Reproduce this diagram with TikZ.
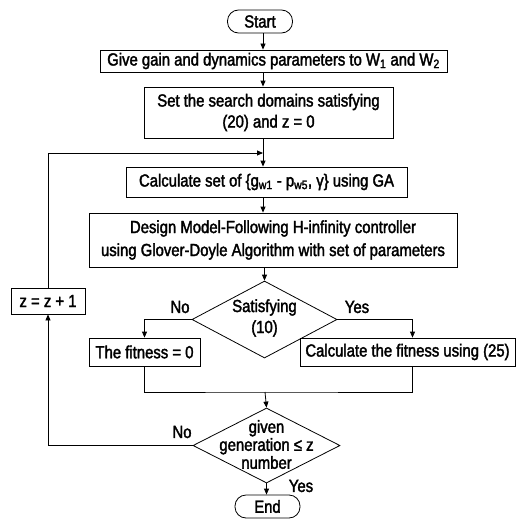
\documentclass[tikz,border=0pt]{standalone}
\usepackage{fontspec}
\setmainfont{Liberation Sans}[FakeStretch=0.85, FakeBold=2]
\usetikzlibrary{shapes.geometric, arrows.meta}

\tikzset{
  line/.style={line width=0.8pt, draw=black},
  arr/.style={line, -{Triangle[length=6pt,width=5pt]}},
  box/.style={line, rectangle, inner sep=0pt, align=center},
  term/.style={box, rounded corners=11pt, minimum width=65pt, minimum height=23pt},
  decide/.style={line, diamond, inner sep=0pt},
  txt/.style={inner sep=0pt, align=center},
}

\begin{document}
\begin{tikzpicture}[x=1pt, y=-1pt, font=\fontsize{17.5}{21}\selectfont]
  \useasboundingbox (0,0) rectangle (527,519);

  % column of the main vertical flow
  \coordinate (col) at (263,0);

  \node[term] (start) at (260,21.5) {Start};
  \node[box, minimum width=347pt, minimum height=22pt] (give) at (273.5,61)
    {Give gain and dynamics parameters to W\textsubscript{1} and W\textsubscript{2}};
  \node[box, minimum width=249pt, minimum height=51pt] (setd) at (268.5,112.5)
    {Set the search domains satisfying\\(20) and z = 0};
  \node[box, minimum width=281pt, minimum height=30pt] (calc) at (266.5,182)
    {Calculate set of \{g\textsubscript{w1} - p\textsubscript{w5}, γ\} using GA};
  \node[box, minimum width=368pt, minimum height=54pt, font=\fontsize{17.5}{23}\selectfont] (design) at (273,240)
    {Design Model-Following H-infinity controller\\using Glover-Doyle Algorithm with set of parameters};

  \node[decide, minimum width=145pt, minimum height=77pt] (sat) at (264.5,319.5) {};
  \node[txt] (satT) at (264.5,318) {Satisfying\\(10)};

  \node[box, minimum width=74pt, minimum height=26pt] (zbox) at (48,301) {z = z + 1};
  \node[box, minimum width=111pt, minimum height=28pt] (fit0) at (144.5,352) {The fitness = 0};
  \node[box, minimum width=215pt, minimum height=28pt] (fit25) at (407.5,352)
    {Calculate the fitness using (25)};

  \node[decide, minimum width=147pt, minimum height=75pt] (gen) at (266.5,445.5) {};
  \node[txt, font=\fontsize{17.5}{18}\selectfont] (genT) at (266.5,444.5)
    {given\\generation ≤ z\\number};

  \node[term] (stop) at (267.5,506.5) {End};

  % branch labels
  \node[txt] (noA) at (180,307) {No};
  \node[txt] (yesA) at (357,307) {Yes};
  \node[txt] (noB) at (182,432) {No};
  \node[txt] (yesB) at (301,486) {Yes};

  % main flow
  \draw[arr] (start.south -| col) -- (give.north -| col);
  \draw[arr] (give.south -| col) -- (setd.north -| col);
  \draw[arr] (setd.south -| col) -- (calc.north -| col);
  \draw[arr] (calc.south -| col) -- (design.north -| col);
  \draw[arr] (design.south -| sat.north) -- (sat.north);

  % decision branches
  \draw[arr] (sat.west) -| (fit0.north);
  \draw[arr] (sat.east) -| ([xshift=5pt]fit25.north);
  \coordinate (merge) at (265,392);
  \draw[line] (fit0.south) |- (merge) -| ([xshift=5pt]fit25.south);
  \draw[arr] (merge) -- (gen.north);

  % termination and loop back
  \draw[arr] (gen.south) -- (gen.south |- stop.north);
  \draw[arr] (gen.west) -| (zbox.south);
  \coordinate (loopin) at (263,153);
  \draw[arr] (zbox.north) |- (loopin);
\end{tikzpicture}
\end{document}
